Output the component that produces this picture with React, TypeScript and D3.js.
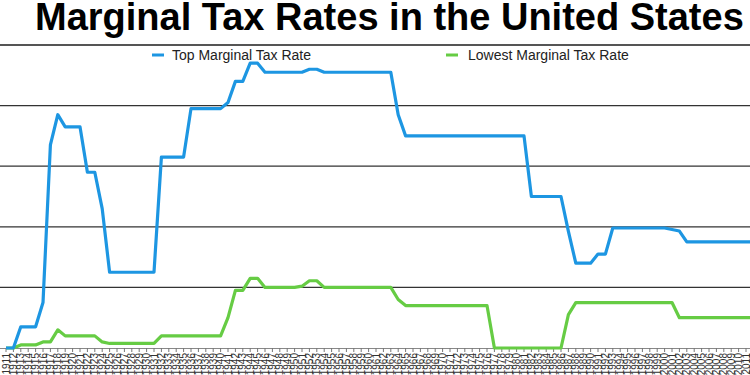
import React from "react";
import * as d3 from "d3";

const years: number[] = d3.range(1911, 2013);

// Top marginal tax rate, 1911–2012 (%)
const topRate: number[] = [
  0, 0, 7, 7, 7, 15, 67, 77, 73, 73, // 1911-1920
  73, 58, 58, 46, 25, 25, 25, 25, 25, 25, // 1921-1930
  25, 63, 63, 63, 63, 79, 79, 79, 79, 79, // 1931-1940
  81, 88, 88, 94, 94, 91, 91, 91, 91, 91, // 1941-1950
  91, 92, 92, 91, 91, 91, 91, 91, 91, 91, // 1951-1960
  91, 91, 91, 77, 70, 70, 70, 70, 70, 70, // 1961-1970
  70, 70, 70, 70, 70, 70, 70, 70, 70, 70, // 1971-1980
  70, 50, 50, 50, 50, 50, 38.5, 28, 28, 28, // 1981-1990
  31, 31, 39.6, 39.6, 39.6, 39.6, 39.6, 39.6, 39.6, 39.6, // 1991-2000
  39.1, 38.6, 35, 35, 35, 35, 35, 35, 35, 35, // 2001-2010
  35, 35, // 2011-2012
];

// Lowest marginal tax rate, 1911–2012 (%)
const lowRate: number[] = [
  0, 0, 1, 1, 1, 2, 2, 6, 4, 4, // 1911-1920
  4, 4, 4, 2, 1.5, 1.5, 1.5, 1.5, 1.5, 1.5, // 1921-1930
  1.5, 4, 4, 4, 4, 4, 4, 4, 4, 4, // 1931-1940
  10, 19, 19, 23, 23, 20, 20, 20, 20, 20, // 1941-1950
  20.4, 22.2, 22.2, 20, 20, 20, 20, 20, 20, 20, // 1951-1960
  20, 20, 20, 16, 14, 14, 14, 14, 14, 14, // 1961-1970
  14, 14, 14, 14, 14, 14, 0, 0, 0, 0, // 1971-1980
  0, 0, 0, 0, 0, 0, 11, 15, 15, 15, // 1981-1990
  15, 15, 15, 15, 15, 15, 15, 15, 15, 15, // 1991-2000
  15, 10, 10, 10, 10, 10, 10, 10, 10, 10, // 2001-2010
  10, 10, // 2011-2012
];

const gridValues: number[] = [20, 40, 60, 80];
const seriesNames: string[] = ["Top Marginal Tax Rate", "Lowest Marginal Tax Rate"];
const seriesColors: string[] = ["#1d96e2", "#66cc44"];
const title = "Marginal Tax Rates in the United States";

const W = 750;
const H = 375;
const FONT = "'Liberation Sans', Arial, Helvetica, sans-serif";

export default function App() {
  const x = d3.scaleLinear().domain([1911, 2011]).range([6, 746]);
  const y = d3.scaleLinear().domain([0, 100]).range([348, 45]);

  const line = d3
    .line<number>()
    .x((_, i) => x(years[i]))
    .y((d) => y(d))
    .curve(d3.curveLinear);

  return (
    <svg
      width={W}
      height={H}
      style={{ position: "absolute", left: 0, top: 0, background: "#fff" }}
      fontFamily={FONT}
    >
      <rect x={0} y={0} width={W} height={H} fill="#fff" />
      <text x={35} y={30} fontSize={38} fontWeight="bold" fill="#000">
        {title}
      </text>

      {/* top border line at 100% */}
      <line x1={0} x2={W} y1={y(100)} y2={y(100)} stroke="#555" strokeWidth={2} />
      {gridValues.map((v) => (
        <line key={v} x1={0} x2={W} y1={y(v)} y2={y(v)} stroke="#333" strokeWidth={1.2} />
      ))}

      {/* x axis */}
      <line x1={0} x2={W} y1={y(0) + 0.5} y2={y(0) + 0.5} stroke="#888" strokeWidth={1} />
      {years.map((yr) => (
        <g key={yr}>
          <line x1={x(yr)} x2={x(yr)} y1={y(0)} y2={y(0) + 4} stroke="#777" strokeWidth={1} />
          <text
            transform={`translate(${x(yr)},${y(0) + 5}) rotate(-90)`}
            textAnchor="end"
            dy="0.35em"
            fontSize={10}
            fill="#333"
          >
            {yr}
          </text>
        </g>
      ))}

      {/* series */}
      <path d={line(lowRate) || ""} fill="none" stroke={seriesColors[1]} strokeWidth={3.2} strokeLinejoin="round" />
      <path d={line(topRate) || ""} fill="none" stroke={seriesColors[0]} strokeWidth={3.2} strokeLinejoin="round" />

      {/* legend */}
      <line x1={152} x2={164} y1={55} y2={55} stroke={seriesColors[0]} strokeWidth={3} />
      <text x={172} y={59.5} fontSize={14} fill="#222">
        {seriesNames[0]}
      </text>
      <line x1={446} x2={458} y1={55} y2={55} stroke={seriesColors[1]} strokeWidth={3} />
      <text x={468} y={59.5} fontSize={14} fill="#222">
        {seriesNames[1]}
      </text>
    </svg>
  );
}
